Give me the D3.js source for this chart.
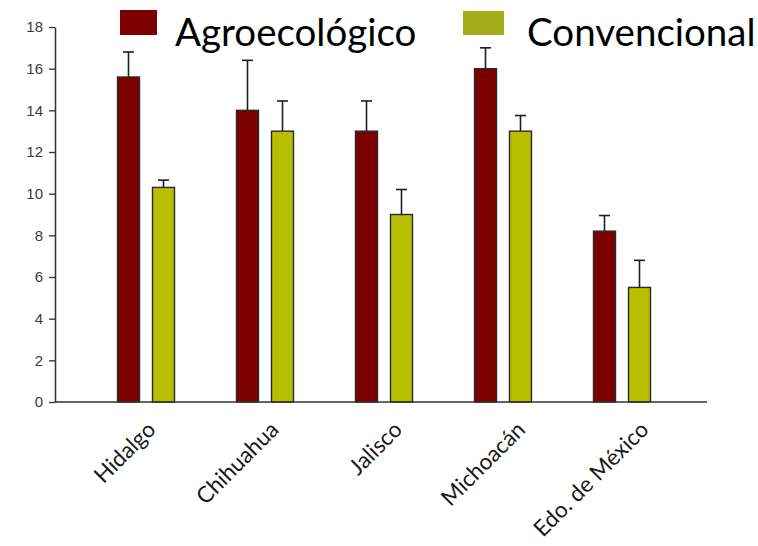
<!DOCTYPE html>
<html>
<head>
<meta charset="utf-8">
<script src="https://cdn.jsdelivr.net/npm/d3@7/dist/d3.min.js"></script>
<style>
  html, body { margin: 0; padding: 0; background: #fff; }
  svg { display: block; }
</style>
</head>
<body>
<svg id="chart" width="758" height="546"></svg>
<script>
// Categories (states) and series
const states = ["Hidalgo", "Chihuahua", "Jalisco", "Michoacán", "Edo. de México"];
const seriesNames = ["Agroecológico", "Convencional"];

// Mean values and error (upper whisker length) per state
const agroValues = [15.6, 14.0, 13.0, 16.0, 8.2];
const agroErrors = [1.2, 2.4, 1.45, 1.0, 0.75];
const convValues = [10.3, 13.0, 9.0, 13.0, 5.5];
const convErrors = [0.35, 1.45, 1.2, 0.75, 1.3];

const yTicks = [0, 2, 4, 6, 8, 10, 12, 14, 16, 18];

const barColors = { "Agroecológico": "#7d0000", "Convencional": "#b8bf00" };
const swatchColors = { "Agroecológico": "#7d0000", "Convencional": "#a4ad1c" };

const svg = d3.select("#chart");
svg.append("rect").attr("width", 758).attr("height", 546).attr("fill", "#fff");

// Scales
const y = d3.scaleLinear().domain([0, 18]).range([402, 27]);
const x = d3.scaleBand().domain(states).range([87, 682]).padding(0);
const xs = d3.scaleBand().domain(seriesNames).range([30.5, 87.5])
  .paddingInner(13 / 35).paddingOuter(0);
const labelX = d3.scalePoint().domain(states).range([157, 650]);

const rows = states.map((s, i) => ({
  state: s,
  values: [
    { series: "Agroecológico", v: agroValues[i], e: agroErrors[i] },
    { series: "Convencional", v: convValues[i], e: convErrors[i] }
  ]
}));

const axisLeft = 55, axisRight = 707;

// Error bars (drawn under bars so the stem starts at the bar top)
const groups = svg.append("g").selectAll("g").data(rows).join("g")
  .attr("transform", d => `translate(${x(d.state)},0)`);

groups.selectAll("g.err").data(d => d.values).join("g").attr("class", "err")
  .each(function(d) {
    const g = d3.select(this);
    const cx = xs(d.series) + xs.bandwidth() / 2;
    g.append("line")
      .attr("x1", cx).attr("x2", cx)
      .attr("y1", y(d.v)).attr("y2", y(d.v + d.e))
      .attr("stroke", "#1e1e1e").attr("stroke-width", 1.6);
    g.append("line")
      .attr("x1", cx - 5.5).attr("x2", cx + 5.5)
      .attr("y1", y(d.v + d.e)).attr("y2", y(d.v + d.e))
      .attr("stroke", "#1e1e1e").attr("stroke-width", 1.6);
  });

groups.selectAll("rect").data(d => d.values).join("rect")
  .attr("x", d => xs(d.series))
  .attr("width", xs.bandwidth())
  .attr("y", d => y(d.v))
  .attr("height", d => y(0) - y(d.v))
  .attr("fill", d => barColors[d.series])
  .attr("stroke", "#2a2a2a")
  .attr("stroke-width", 1.4);

// Y axis
const yAxis = svg.append("g")
  .attr("transform", `translate(${axisLeft},0)`)
  .call(d3.axisLeft(y).tickValues(yTicks).tickSize(6).tickSizeOuter(0).tickPadding(6));
yAxis.select(".domain").attr("stroke", "#333").attr("stroke-width", 1.5);
yAxis.selectAll(".tick line").attr("stroke", "#333").attr("stroke-width", 1.3);
yAxis.selectAll(".tick text")
  .attr("fill", "#3a3a3a")
  .style("font-family", "'Liberation Sans', Arial, sans-serif")
  .style("font-size", "15px");

// X axis baseline
svg.append("line")
  .attr("x1", axisLeft).attr("x2", axisRight)
  .attr("y1", y(0)).attr("y2", y(0))
  .attr("stroke", "#333").attr("stroke-width", 1.5);

// Rotated category labels
svg.append("g").selectAll("text").data(states).join("text")
  .attr("transform", d => `translate(${labelX(d)},431) rotate(-45)`)
  .attr("text-anchor", "end")
  .attr("fill", "#1a1a1a")
  .style("font-family", "Lato, 'Open Sans', sans-serif")
  .style("font-size", "22.5px")
  .text(d => d);

// Legend
const legendItems = [
  { name: "Agroecológico", sx: 120, sy: 10, sw: 37, sh: 25, tx: 175 },
  { name: "Convencional", sx: 463, sy: 11, sw: 41, sh: 24, tx: 527 }
];
const legend = svg.append("g").selectAll("g").data(legendItems).join("g");
legend.append("rect")
  .attr("x", d => d.sx).attr("y", d => d.sy)
  .attr("width", d => d.sw).attr("height", d => d.sh)
  .attr("fill", d => swatchColors[d.name]);
legend.append("text")
  .attr("x", d => d.tx).attr("y", 46)
  .attr("fill", "#000")
  .style("font-family", "Lato, 'Open Sans', sans-serif")
  .style("font-size", "38.5px")
  .text(d => d.name);
</script>
</body>
</html>
